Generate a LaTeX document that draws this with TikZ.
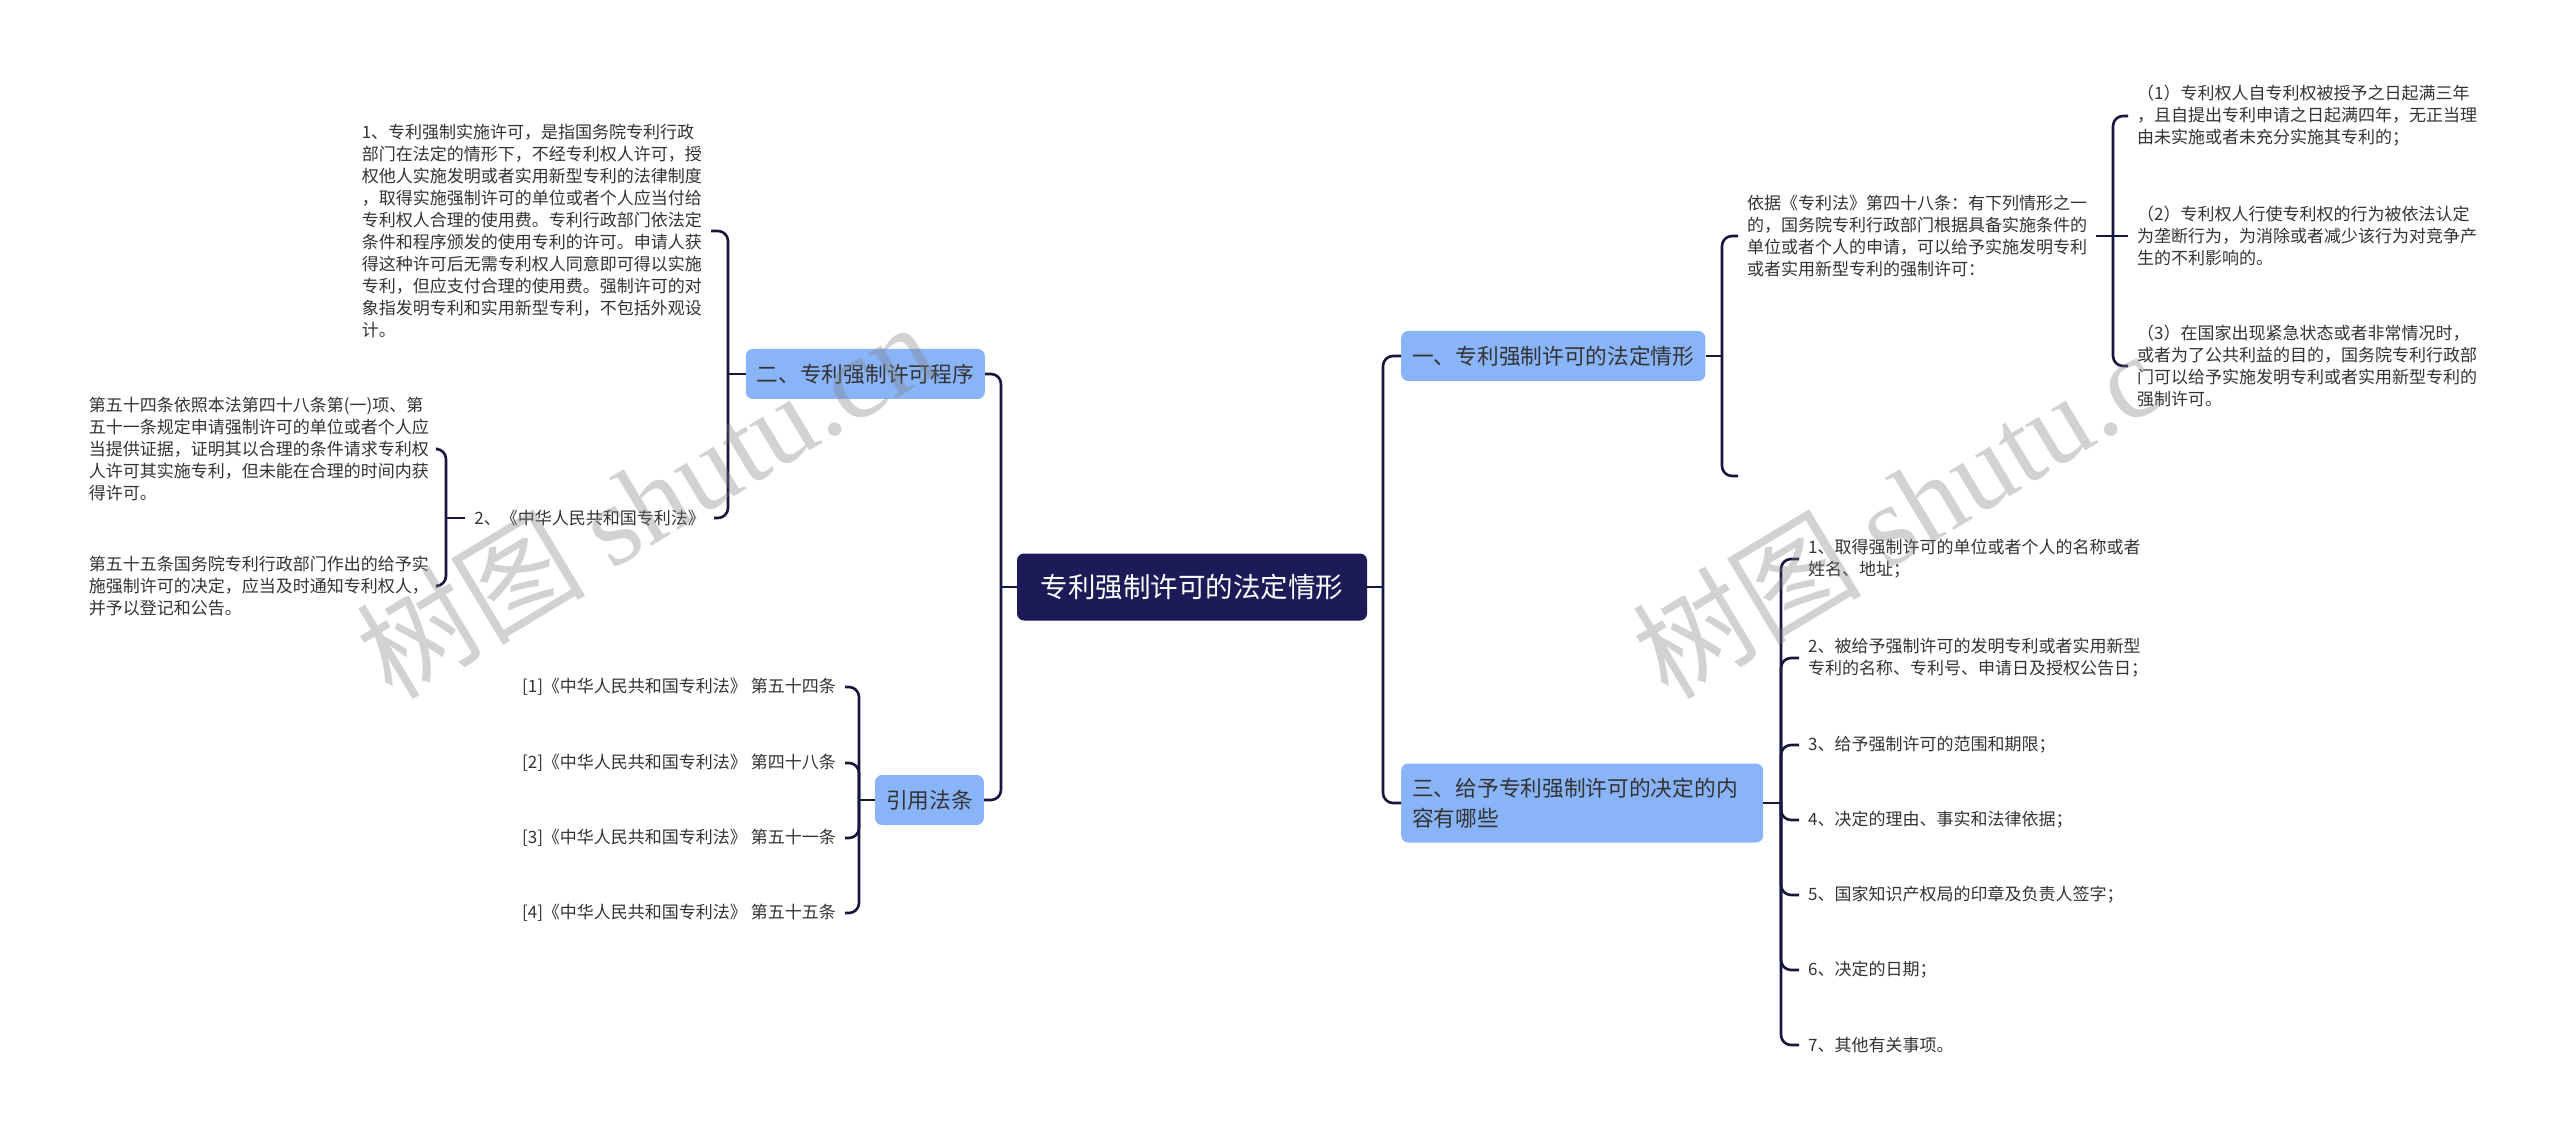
\documentclass[tikz,border=0pt]{standalone}
\usepackage{fontspec}
\setmainfont{Noto Sans CJK SC}
\newfontfamily\wmcjk{Noto Sans CJK SC}
\newfontfamily\wmlat{Liberation Serif}
\definecolor{navy}{RGB}{28,27,88}
\definecolor{linec}{RGB}{22,22,62}
\definecolor{branchc}{RGB}{138,180,248}
\definecolor{txt}{RGB}{51,51,51}
\begin{document}
\begin{tikzpicture}[x=1pt,y=-1pt,
  link/.style={draw=linec, line width=2.6pt, rounded corners=10pt},
  root/.style={fill=navy, rounded corners=7pt, text=white, font=\fontsize{27.5}{32}\selectfont, inner xsep=13pt, inner ysep=0pt, minimum height=67pt, minimum width=350pt},
  branch/.style={fill=branchc, rounded corners=7pt, text=txt, font=\fontsize{21.7}{30}\selectfont, inner xsep=11pt, inner ysep=0pt, minimum height=50pt, align=left},
  leaf/.style={text=txt, font=\fontsize{17}{22}\selectfont, inner xsep=9pt, inner ysep=2pt, align=left},
  wm/.style={text=gray, opacity=0.35, inner sep=0pt, rotate=31, anchor=base west},
]
\useasboundingbox[fill=white] (0,0) rectangle (2560,1139);

% bracket x positions
\coordinate (bxL) at (1001,0);
\coordinate (bxR) at (1383,0);
\coordinate (bx2) at (728,0);
\coordinate (bxL2) at (446,0);
\coordinate (bxY) at (859,0);
\coordinate (bx1) at (1722,0);
\coordinate (bxA) at (2113,0);
\coordinate (bx3) at (1781,0);

% root and branches
\node[root] (root) at (1192,587) {专利强制许可的法定情形};
\node[branch, anchor=east] (b2) at (985,374) {二、专利强制许可程序};
\node[branch, anchor=east] (bY) at (984,800) {引用法条};
\node[branch, anchor=west] (b1) at (1401,356) {一、专利强制许可的法定情形};
\node[branch, anchor=west, minimum height=79pt, text width=340pt] (b3) at (1401,803) {三、给予专利强制许可的决定的内\\容有哪些};

% left leaves
\node[leaf, anchor=east] (l1) at (711,231) {1、专利强制实施许可，是指国务院专利行政\\部门在法定的情形下，不经专利权人许可，授\\权他人实施发明或者实用新型专利的法律制度\\，取得实施强制许可的单位或者个人应当付给\\专利权人合理的使用费。专利行政部门依法定\\条件和程序颁发的使用专利的许可。申请人获\\得这种许可后无需专利权人同意即可得以实施\\专利，但应支付合理的使用费。强制许可的对\\象指发明专利和实用新型专利，不包括外观设\\计。};
\node[leaf, anchor=east] (l2) at (714,518) {2、《中华人民共和国专利法》};
\node[leaf, anchor=east] (l21) at (438,449) {第五十四条依照本法第四十八条第(一)项、第\\五十一条规定申请强制许可的单位或者个人应\\当提供证据，证明其以合理的条件请求专利权\\人许可其实施专利，但未能在合理的时间内获\\得许可。};
\node[leaf, anchor=east] (l22) at (438,586) {第五十五条国务院专利行政部门作出的给予实\\施强制许可的决定，应当及时通知专利权人，\\并予以登记和公告。};
\node[leaf, anchor=east] (y1) at (845,687) {[1]《中华人民共和国专利法》 第五十四条};
\node[leaf, anchor=east] (y2) at (845,763) {[2]《中华人民共和国专利法》 第四十八条};
\node[leaf, anchor=east] (y3) at (845,838) {[3]《中华人民共和国专利法》 第五十一条};
\node[leaf, anchor=east] (y4) at (845,913) {[4]《中华人民共和国专利法》 第五十五条};

% right leaves
\node[leaf, anchor=west] (a1) at (1738,236) {依据《专利法》第四十八条：有下列情形之一\\的，国务院专利行政部门根据具备实施条件的\\单位或者个人的申请，可以给予实施发明专利\\或者实用新型专利的强制许可：};
\coordinate (a0) at (1738,476);
\node[leaf, anchor=west] (p1) at (2128,116) {（1）专利权人自专利权被授予之日起满三年\\，且自提出专利申请之日起满四年，无正当理\\由未实施或者未充分实施其专利的；};
\node[leaf, anchor=west] (p2) at (2128,236) {（2）专利权人行使专利权的行为被依法认定\\为垄断行为，为消除或者减少该行为对竞争产\\生的不利影响的。};
\node[leaf, anchor=west] (p3) at (2128,366) {（3）在国家出现紧急状态或者非常情况时，\\或者为了公共利益的目的，国务院专利行政部\\门可以给予实施发明专利或者实用新型专利的\\强制许可。};
\node[leaf, anchor=west] (c1) at (1799,559) {1、取得强制许可的单位或者个人的名称或者\\姓名、地址；};
\node[leaf, anchor=west] (c2) at (1799,658) {2、被给予强制许可的发明专利或者实用新型\\专利的名称、专利号、申请日及授权公告日；};
\node[leaf, anchor=west] (c3) at (1799,745) {3、给予强制许可的范围和期限；};
\node[leaf, anchor=west] (c4) at (1799,820) {4、决定的理由、事实和法律依据；};
\node[leaf, anchor=west] (c5) at (1799,895) {5、国家知识产权局的印章及负责人签字；};
\node[leaf, anchor=west] (c6) at (1799,970) {6、决定的日期；};
\node[leaf, anchor=west] (c7) at (1799,1045) {7、其他有关事项。};

% connectors: root
\draw[link] (root.west) -- (root.west -| bxL);
\draw[link] (root.west -| bxL) |- (b2.east);
\draw[link] (root.west -| bxL) |- (bY.east);
\draw[link] (root.east) -- (root.east -| bxR);
\draw[link] (root.east -| bxR) |- (b1.west);
\draw[link] (root.east -| bxR) |- (b3.west);
% b2
\draw[link] (b2.west) -- (b2.west -| bx2);
\draw[link] (b2.west -| bx2) |- (l1.east);
\draw[link] (b2.west -| bx2) |- (l2.east);
% l2
\draw[link] (l2.west) -- (l2.west -| bxL2);
\draw[link] (l2.west -| bxL2) |- (l21.east);
\draw[link] (l2.west -| bxL2) |- (l22.east);
% bY
\draw[link] (bY.west) -- (bY.west -| bxY);
\foreach \c in {y1,y2,y3,y4} \draw[link] (bY.west -| bxY) |- (\c.east);
% b1
\draw[link] (b1.east) -- (b1.east -| bx1);
\draw[link] (b1.east -| bx1) |- (a1.west);
\draw[link] (b1.east -| bx1) |- (a0);
% a1
\draw[link] (a1.east) -- (a1.east -| bxA);
\draw[link] (a1.east -| bxA) |- (p1.west);
\draw[link] (a1.east -| bxA) -- (p2.west);
\draw[link] (a1.east -| bxA) |- (p3.west);
% b3
\draw[link] (b3.east) -- (b3.east -| bx3);
\foreach \c in {c1,c2,c3,c4,c5,c6,c7} \draw[link] (b3.east -| bx3) |- (\c.west);

% watermarks
\node[wm] (wmA) at (392,702) {\fontsize{115}{115}\selectfont\wmcjk 树图 \wmlat shutu.cn};
\node[wm] (wmB) at (1668,702) {\fontsize{115}{115}\selectfont\wmcjk 树图 \wmlat shutu.c};
\end{tikzpicture}
\end{document}
